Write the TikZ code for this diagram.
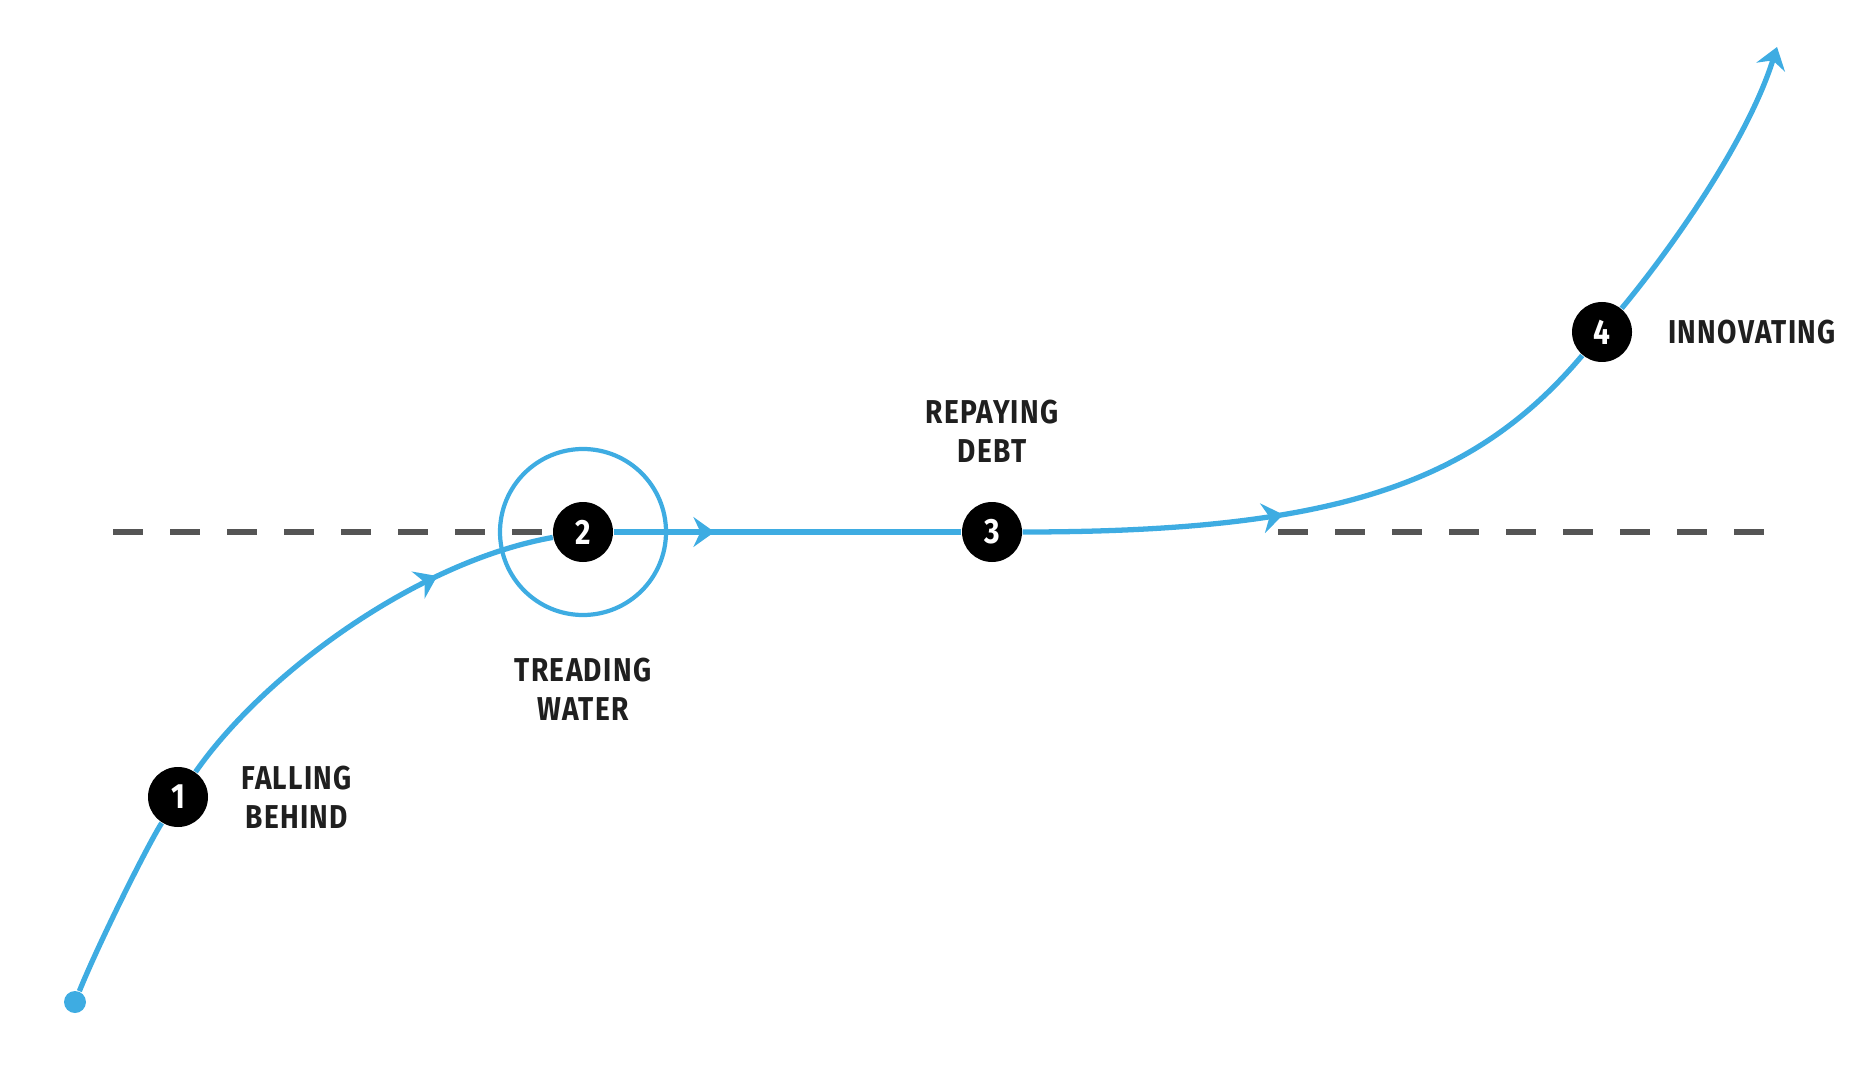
\documentclass[tikz,border=0pt]{standalone}
\usepackage{fontspec}
\newfontfamily\stagefont{Fira Sans}[FakeStretch=0.85,LetterSpace=4]
\usetikzlibrary{positioning,arrows.meta,decorations.markings}
\definecolor{pathblue}{RGB}{62,172,226}
\definecolor{dashgray}{RGB}{85,85,85}
\tikzset{
  stagedot/.style={circle,fill=black,text=white,minimum size=0.6cm,inner sep=0pt,
    font=\stagefont\bfseries\fontsize{10}{10}\selectfont},
  startdot/.style={circle,fill=pathblue,minimum size=0.22cm,inner sep=0pt},
  ring/.style={circle,draw=pathblue,line width=1.2pt,minimum size=1.66cm,inner sep=0pt},
  stagelabel/.style={align=center,inner sep=0pt,text=black!88,
    font=\stagefont\bfseries\fontsize{9.4}{11.1}\selectfont},
  levelline/.style={draw=dashgray,line width=1.6pt,dash pattern=on 0.3cm off 0.27cm},
  flow/.style={draw=pathblue,line width=1.5pt},
  midarrow/.style={postaction={decorate},decoration={markings,
    mark=at position #1 with {\arrow[pathblue]{Stealth[length=6pt,width=8.5pt,inset=2pt]}}}},
}
\begin{document}
\begin{tikzpicture}
  \useasboundingbox (0,0) rectangle (18.66,10.82);
  % stages along the path
  \node[startdot] (s) at (0.75,0.80) {};
  \node[stagedot] (n1) at (1.78,2.85) {1};
  \node[ring] (ring) at (5.83,5.50) {};
  \node[stagedot] (n2) at (5.83,5.50) {2};
  \node[stagedot] (n3) at (9.92,5.50) {3};
  \node[stagedot] (n4) at (16.02,7.50) {4};
  \coordinate (top) at (17.77,10.35);
  % labels next to the stages
  \node[stagelabel,right=0.32cm of n1] (falling) {FALLING\\BEHIND};
  \node[stagelabel,below=0.4cm of ring] (treading) {TREADING\\WATER};
  \node[stagelabel,above=0.38cm of n3] (repaying) {REPAYING\\DEBT};
  \node[stagelabel,right=0.35cm of n4] (innovating) {INNOVATING};
  % dashed level line, left and right part
  \coordinate (lvlA) at (1.13,5.50);
  \coordinate (lvlB) at (12.78,5.50);
  \coordinate (lvlC) at (17.70,5.50);
  \draw[levelline] (lvlA) -- (n2);
  \draw[levelline] (lvlB) -- (lvlC);
  % the path through the stages
  \draw[flow] (s) .. controls (0.975,1.36) and (1.46,2.34) .. (n1);
  \draw[flow,midarrow=0.72] (n1) .. controls (2.64,4.08) and (4.16,5.20) .. (n2);
  \draw[flow,midarrow=0.29] (n2) -- (n3);
  \draw[flow,midarrow=0.43] (n3) .. controls (13.32,5.50) and (14.73,5.97) .. (n4);
  \draw[flow,-{Stealth[length=6pt,width=8.5pt,inset=2pt]}]
    (n4) .. controls (16.66,8.27) and (17.46,9.37) .. (top);
\end{tikzpicture}
\end{document}
